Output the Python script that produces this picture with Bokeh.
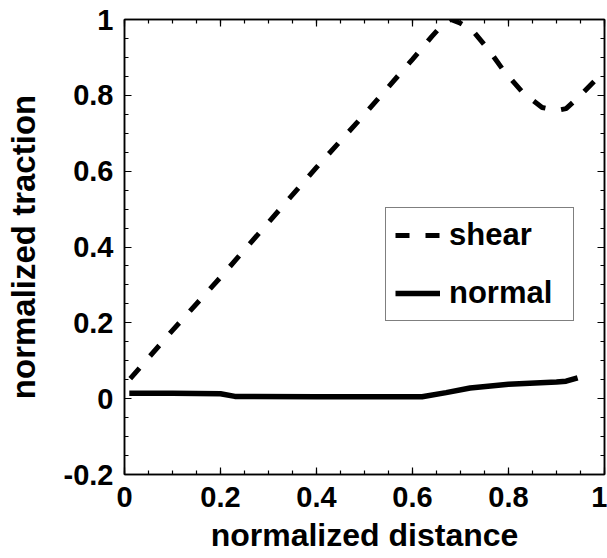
from bokeh.plotting import figure
from bokeh.models import LinearAxis, Range1d, FixedTicker, Legend, LegendItem
from bokeh.embed import file_html
from bokeh.resources import INLINE

# data
shear_x = [0.012, 0.1, 0.2, 0.3, 0.4, 0.5, 0.6, 0.64, 0.665, 0.68, 0.70, 0.726, 0.76, 0.79, 0.83, 0.87, 0.90, 0.92, 0.95, 0.985, 1.0]
shear_y = [0.053, 0.18, 0.32, 0.465, 0.61, 0.75, 0.895, 0.955, 0.99, 1.0, 0.99, 0.97, 0.918, 0.865, 0.807, 0.768, 0.76, 0.765, 0.80, 0.845, 0.862]
normal_x = [0.01, 0.1, 0.2, 0.23, 0.4, 0.5, 0.62, 0.67, 0.72, 0.8, 0.9, 0.92, 0.944]
normal_y = [0.014, 0.014, 0.013, 0.006, 0.005, 0.005, 0.005, 0.016, 0.028, 0.038, 0.044, 0.046, 0.055]
x_ticks = [0, 0.2, 0.4, 0.6, 0.8, 1]
y_ticks = [-0.2, 0, 0.2, 0.4, 0.6, 0.8, 1]
x_tick_labels = {0: "0", 0.2: "0.2", 0.4: "0.4", 0.6: "0.6", 0.8: "0.8", 1: "1"}
y_tick_labels = {-0.2: "-0.2", 0: "0", 0.2: "0.2", 0.4: "0.4", 0.6: "0.6", 0.8: "0.8", 1: "1"}
x_label = "normalized distance"
y_label = "normalized traction"

FONT = "Liberation Sans"

p = figure(width=607, height=558, output_backend="svg", toolbar_location=None,
           x_range=Range1d(0, 1.0), y_range=Range1d(-0.2, 1.0),
           min_border_left=124, min_border_right=3, min_border_top=19, min_border_bottom=84,
           x_axis_label=x_label, y_axis_label=y_label)
p.grid.visible = False
p.outline_line_color = "black"
p.outline_line_width = 1.5
p.background_fill_color = "white"
p.border_fill_color = "white"

minor_x = [i * 0.05 for i in range(21)]
minor_y = [-0.2 + i * 0.05 for i in range(25)]

def style_axis(ax, ticks, minor, labels=True):
    ax.ticker = FixedTicker(ticks=ticks, minor_ticks=minor)
    ax.major_tick_in = 7
    ax.major_tick_out = 0
    ax.minor_tick_in = 4
    ax.minor_tick_out = 0
    ax.axis_line_color = "black"
    ax.axis_line_width = 1.5
    ax.major_tick_line_color = "black"
    ax.minor_tick_line_color = "black"
    ax.major_tick_line_width = 1.2
    ax.minor_tick_line_width = 1.2
    ax.major_label_text_font = FONT
    ax.major_label_text_font_style = "bold"
    ax.major_label_text_font_size = "29px"
    ax.major_label_text_color = "black"
    ax.axis_label_text_font = FONT
    ax.axis_label_text_font_style = "bold"
    ax.axis_label_text_font_size = "32px"
    ax.axis_label_text_color = "black"
    if not labels:
        ax.major_label_text_font_size = "0px"
        ax.major_label_text_alpha = 0

style_axis(p.xaxis[0], x_ticks, minor_x)
style_axis(p.yaxis[0], y_ticks, minor_y)
p.xaxis[0].major_label_standoff = 12
p.xaxis[0].axis_label_standoff = 7
p.yaxis[0].major_label_standoff = 11
p.yaxis[0].axis_label_standoff = 19
p.yaxis[0].axis_label_text_font_size = "33px"
p.xaxis[0].major_label_overrides = x_tick_labels
p.yaxis[0].major_label_overrides = y_tick_labels

top = LinearAxis()
style_axis(top, x_ticks, minor_x, labels=False)
p.add_layout(top, "above")
right = LinearAxis()
style_axis(right, y_ticks, minor_y, labels=False)
p.add_layout(right, "right")

r_shear = p.line(shear_x, shear_y, line_color="black", line_width=5, line_dash="14 16")
r_normal = p.line(normal_x, normal_y, line_color="black", line_width=5.5)

legend = Legend(items=[LegendItem(label="shear", renderers=[r_shear]),
                       LegendItem(label="normal", renderers=[r_normal])],
                location=(261, 153))
legend.label_text_font = FONT
legend.label_text_font_style = "bold"
legend.label_text_font_size = "31px"
legend.label_text_color = "black"
legend.border_line_color = "black"
legend.border_line_width = 1.5
legend.background_fill_color = "white"
legend.background_fill_alpha = 1
legend.padding = 9
legend.spacing = 22
legend.glyph_width = 45
legend.glyph_height = 34
legend.label_height = 34
legend.label_width = 115
legend.label_standoff = 9
legend.margin = 0
p.add_layout(legend, "center")

open("out.html", "w").write(file_html(p, INLINE))
